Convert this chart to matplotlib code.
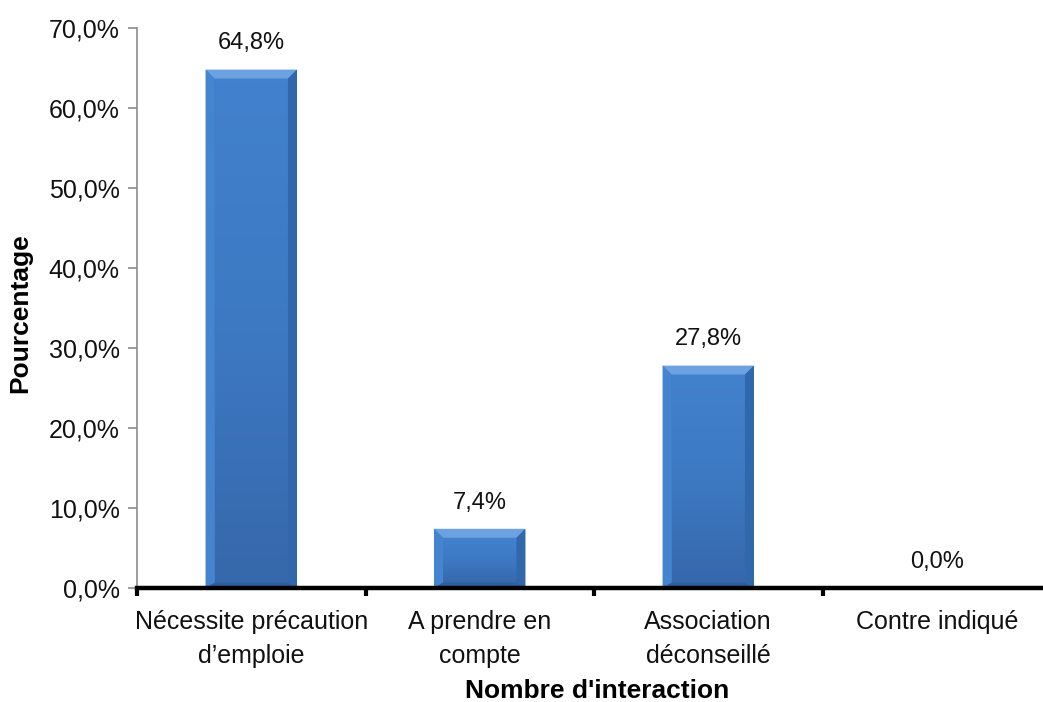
import matplotlib
matplotlib.use("Agg")
import matplotlib.pyplot as plt
import numpy as np
from matplotlib.patches import Polygon
from matplotlib.colors import LinearSegmentedColormap
from matplotlib.ticker import FuncFormatter, FixedLocator

plt.rcParams['font.family'] = ['Liberation Sans', 'DejaVu Sans']

categories = ["Nécessite précaution\nd’emploie", "A prendre en\ncompte",
              "Association\ndéconseillé", "Contre indiqué"]
values = [64.8, 7.4, 27.8, 0.0]
value_labels = ["64,8%", "7,4%", "27,8%", "0,0%"]
y_ticks = [0, 10, 20, 30, 40, 50, 60, 70]

W, H = 1043, 702
fig = plt.figure(figsize=(W / 100, H / 100), dpi=100)
ax = fig.add_axes([137 / W, 114 / H, 914 / W, 560 / H])

x = np.arange(len(categories))
bar_w = 0.4
ax.set_xlim(-0.5, len(categories) - 0.5)
ax.set_ylim(0, 70)

face_cmap = LinearSegmentedColormap.from_list("face", ["#3668AB", "#3D79C3", "#4281CD"])


def px_to_data(dx_px, dy_px):
    inv = ax.transData.inverted()
    p0 = inv.transform((0, 0))
    p1 = inv.transform((dx_px, dy_px))
    return p1[0] - p0[0], p1[1] - p0[1]


bev_x, bev_y = px_to_data(9, 9)

for xi, v in zip(x, values):
    ax.bar(xi, v, width=bar_w, color="#3E7BC6", edgecolor="none", zorder=2)
    if v <= 0:
        continue
    l, r = xi - bar_w / 2, xi + bar_w / 2
    b, t = 0, v
    by = min(bev_y, v / 3)
    bb = by * 0.6
    # front face with vertical shading
    grad = np.linspace(0, 1, 100).reshape(-1, 1)
    ax.imshow(grad, extent=(l + bev_x, r - bev_x, b + bb, t - by),
              origin="lower", cmap=face_cmap, aspect="auto", zorder=3)
    # bevel edges
    top = Polygon([(l, t), (r, t), (r - bev_x, t - by), (l + bev_x, t - by)],
                  closed=True, facecolor="#6CA2E2", edgecolor="none", zorder=4)
    left = Polygon([(l, t), (l + bev_x, t - by), (l + bev_x, b + bb), (l, b)],
                   closed=True, facecolor="#4584CE", edgecolor="none", zorder=4)
    right = Polygon([(r, t), (r - bev_x, t - by), (r - bev_x, b + bb), (r, b)],
                    closed=True, facecolor="#3167AB", edgecolor="none", zorder=4)
    bottom = Polygon([(l, b), (r, b), (r - bev_x, b + bb), (l + bev_x, b + bb)],
                     closed=True, facecolor="#2D5E9E", edgecolor="none", zorder=4)
    for p in (top, left, right, bottom):
        ax.add_patch(p)

for xi, v, lab in zip(x, values, value_labels):
    ax.annotate(lab, (xi, v), xytext=(0, 11), textcoords="offset points",
                ha="center", va="bottom", fontsize=17, color="#111111")

# axes styling
for s in ("top", "right"):
    ax.spines[s].set_visible(False)
ax.spines["left"].set_color("#8C8C8C")
ax.spines["left"].set_linewidth(1.2)
ax.spines["bottom"].set_color("black")
ax.spines["bottom"].set_linewidth(3.2)
ax.spines["bottom"].set_zorder(5)

ax.yaxis.set_major_locator(FixedLocator(y_ticks))
ax.yaxis.set_major_formatter(FuncFormatter(lambda v, p: f"{v:.1f}".replace(".", ",") + "%"))
ax.tick_params(axis="y", length=6.5, width=1.2, color="#8C8C8C", pad=6,
               labelsize=18, labelcolor="#111111")

ax.set_xticks(x)
ax.set_xticklabels(categories, linespacing=1.5)
ax.set_xticks(np.arange(len(categories) + 1) - 0.5, minor=True)
ax.tick_params(axis="x", which="major", length=0, pad=16, labelsize=18, labelcolor="#111111")
ax.tick_params(axis="x", which="minor", length=6, width=3, color="black")

ax.text(0.503, -0.184, "Nombre d'interaction", transform=ax.transAxes,
        ha="center", va="center", fontsize=19, fontweight="bold")
ax.text(-0.128, 0.49, "Pourcentage", transform=ax.transAxes, rotation=90,
        ha="center", va="center", fontsize=19, fontweight="bold")

fig.savefig("out.png", dpi=100, facecolor="white")
